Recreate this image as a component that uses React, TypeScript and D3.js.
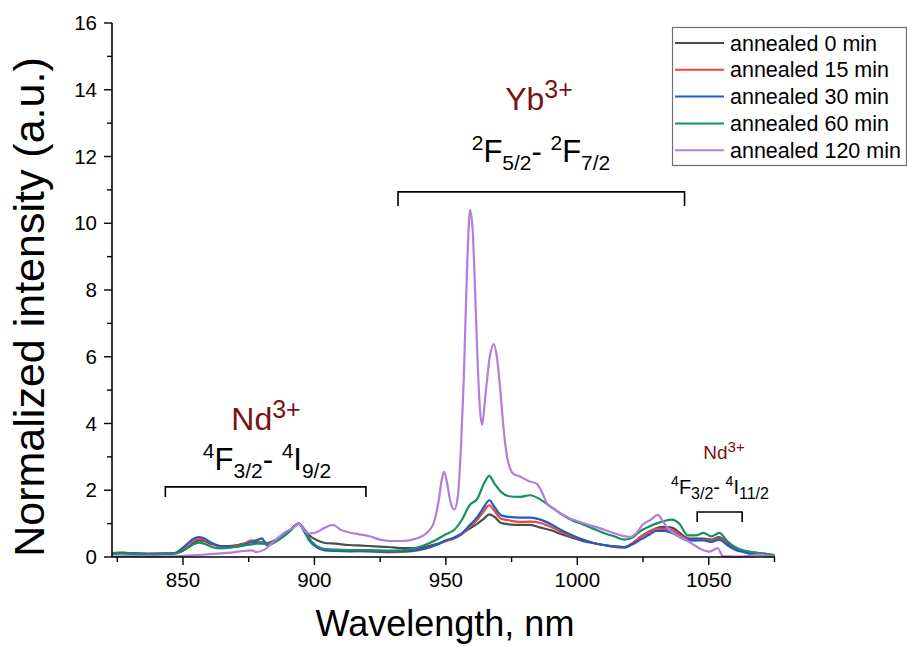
import React from 'react';
import * as d3 from 'd3';

// Shared wavelength grid (nm) for the 0, 15, 30 and 60 min spectra
const wavelengths = [
  823, 827, 831, 835, 839, 843, 847, 849,
  852, 854, 856, 858, 861, 864, 867, 870,
  873, 876, 878, 880, 882, 885, 888, 891,
  894, 896, 898, 901, 904, 908, 913, 918,
  923, 928, 933, 938, 942, 946, 950, 953,
  956, 959, 962, 964.5, 966.5, 968.5, 971, 974,
  978, 982, 986, 990, 994, 998, 1002, 1006,
  1010, 1014, 1018, 1021, 1024, 1027, 1030, 1033,
  1036, 1039, 1042, 1045, 1048, 1051, 1054, 1057,
  1060, 1063, 1067, 1071, 1075,
];

const annealed0 = [
  0.1, 0.12, 0.1, 0.1, 0.08, 0.1, 0.12, 0.15,
  0.3, 0.42, 0.5, 0.48, 0.38, 0.33, 0.33, 0.35,
  0.4, 0.45, 0.45, 0.44, 0.42, 0.5, 0.65, 0.82,
  1.0, 0.85, 0.65, 0.5, 0.42, 0.4, 0.36, 0.34,
  0.32, 0.3, 0.27, 0.27, 0.3, 0.38, 0.48, 0.58,
  0.7, 0.85, 1.0, 1.15, 1.28, 1.2, 1.02, 0.98,
  0.96, 0.96, 0.88, 0.8, 0.68, 0.58, 0.48, 0.42,
  0.36, 0.3, 0.28, 0.4, 0.6, 0.75, 0.86, 0.9,
  0.88, 0.72, 0.56, 0.55, 0.55, 0.52, 0.6, 0.42,
  0.27, 0.18, 0.12, 0.08, 0.05,
];

const annealed15 = [
  0.12, 0.14, 0.1, 0.09, 0.1, 0.11, 0.12, 0.2,
  0.38, 0.5, 0.56, 0.52, 0.4, 0.32, 0.3, 0.32,
  0.38, 0.5, 0.48, 0.42, 0.38, 0.48, 0.65, 0.82,
  1.0, 0.8, 0.55, 0.3, 0.22, 0.2, 0.18, 0.17,
  0.16, 0.14, 0.15, 0.18, 0.25, 0.35, 0.48, 0.55,
  0.68, 0.9, 1.12, 1.38, 1.55, 1.38, 1.15, 1.1,
  1.05, 1.06, 1.02, 0.9, 0.75, 0.62, 0.52, 0.42,
  0.36, 0.32, 0.3, 0.42, 0.6, 0.72, 0.85, 0.84,
  0.8, 0.66, 0.52, 0.5, 0.52, 0.5, 0.56, 0.4,
  0.25, 0.18, 0.14, 0.1, 0.06,
];

const annealed30 = [
  0.1, 0.12, 0.12, 0.1, 0.1, 0.1, 0.12, 0.22,
  0.42, 0.55, 0.6, 0.56, 0.42, 0.33, 0.3, 0.3,
  0.36, 0.45, 0.5, 0.56, 0.35, 0.45, 0.62, 0.82,
  1.0, 0.78, 0.5, 0.28, 0.2, 0.18, 0.17, 0.18,
  0.17, 0.15, 0.17, 0.2, 0.25, 0.35, 0.5, 0.57,
  0.7, 0.95, 1.2, 1.5, 1.7, 1.5, 1.25, 1.2,
  1.18, 1.18, 1.12, 0.98, 0.8, 0.65, 0.52, 0.42,
  0.36, 0.32, 0.3, 0.38, 0.52, 0.65, 0.78, 0.78,
  0.72, 0.6, 0.5, 0.5, 0.5, 0.45, 0.52, 0.36,
  0.22, 0.15, 0.08, 0.06, 0.04,
];

const annealed60 = [
  0.1, 0.1, 0.1, 0.09, 0.08, 0.09, 0.1, 0.15,
  0.28, 0.38, 0.43, 0.4, 0.3, 0.26, 0.27, 0.3,
  0.34, 0.38, 0.4, 0.4, 0.38, 0.45, 0.6, 0.8,
  1.0, 0.8, 0.55, 0.32, 0.24, 0.22, 0.21, 0.21,
  0.2, 0.19, 0.2, 0.26, 0.36, 0.5, 0.68, 0.8,
  1.1, 1.55, 1.75, 2.2, 2.43, 2.2, 1.95, 1.82,
  1.8, 1.85, 1.72, 1.5, 1.28, 1.1, 0.98, 0.85,
  0.72, 0.62, 0.52, 0.58, 0.78, 0.9, 1.0, 1.08,
  1.12, 0.98, 0.65, 0.65, 0.72, 0.62, 0.72, 0.48,
  0.3, 0.2, 0.14, 0.1, 0.05,
];

// Own, denser grid for the 120 min spectrum (sharp Yb peaks)
const wavelengths120 = [
  823, 831, 841, 849, 856, 863, 869, 873, 876, 878, 881, 885, 889, 892, 894, 896,
  898, 901, 904, 907, 910, 913, 917, 921, 925, 929, 933, 936, 939, 941.5, 943.5, 945.5,
  947.2, 948.4, 949.3, 950.4, 951.6, 953.2, 954.6, 955.8, 956.8, 958, 959.2, 960.2, 961.1, 962,
  963, 963.8, 965, 966.7, 968.2, 969.4, 970.7, 972, 973.3, 975.6, 978, 982, 984.5, 986.5,
  988.5, 991, 993.5, 997, 1001, 1005, 1009, 1013, 1017, 1020, 1022.5, 1025, 1028, 1030.6,
  1032.2, 1034, 1037.6, 1041.4, 1044, 1046.4, 1050.2, 1052, 1053.4, 1055.3, 1058, 1061, 1065,
  1069, 1073, 1075,
];

const annealed120 = [
  0.02, 0.03, 0.02, 0.03, 0.06, 0.1, 0.14, 0.18, 0.2, 0.15, 0.22, 0.5, 0.75, 0.88, 1.0, 0.82,
  0.7, 0.75, 0.88, 0.96, 0.82, 0.74, 0.68, 0.62, 0.52, 0.48, 0.48, 0.5, 0.56, 0.65, 0.78, 1.05,
  1.65, 2.3, 2.55, 2.25, 1.7, 1.42, 1.85, 3.4, 5.3, 8.5, 10.4, 9.8, 8.0, 6.0,
  4.4, 3.96, 4.8, 6.0, 6.38, 6.0, 5.0, 3.8, 3.0, 2.5, 2.42, 2.26, 2.2, 1.95,
  1.6, 1.45, 1.31, 1.16, 1.05, 0.95, 0.85, 0.74, 0.64, 0.6, 0.72, 0.98, 1.12, 1.26,
  1.12, 0.9, 0.66, 0.51, 0.38, 0.26, 0.16, 0.22, 0.27, 0.03, 0.02, 0.01, 0.03,
  0.07, 0.03, 0.02,
];

const seriesLabels = ['annealed 0 min', 'annealed 15 min', 'annealed 30 min', 'annealed 60 min', 'annealed 120 min'];
const seriesColors = ['#4d4d4d', '#ec4640', '#1f5cc6', '#16905c', '#b27edd'];

const xTicksMajor = [850, 900, 950, 1000, 1050];
const xTicksMinor = [825, 875, 925, 975, 1025, 1075];
const yTicksMajor = [0, 2, 4, 6, 8, 10, 12, 14, 16];
const yTicksMinor = [1, 3, 5, 7, 9, 11, 13, 15];

const FONT = 'Liberation Sans, Arial, Helvetica, sans-serif';
const DARK_RED = '#7a1212';

type TermProps = { cx: number; base: number; main: number; small: number; sup: number; up: number; down: number; parts: [string, string, string, string, string, string] };

// Spectroscopic term "^aX_b- ^cY_d" as a single text chunk (relative shifts only)
function Term({ cx, base, main, small, sup, up, down, parts }: TermProps) {
  const [s1, m1, b1, s2, m2, b2] = parts;
  return (
    <text x={cx} y={base} textAnchor="middle" fill="#000">
      <tspan fontSize={sup} dy={-up}>{s1}</tspan>
      <tspan fontSize={main} dy={up}>{m1}</tspan>
      <tspan fontSize={small} dy={down}>{b1}</tspan>
      <tspan fontSize={main} dy={-down}>{'-\u00a0'}</tspan>
      <tspan fontSize={sup} dy={-up}>{s2}</tspan>
      <tspan fontSize={main} dy={up}>{m2}</tspan>
      <tspan fontSize={small} dy={down}>{b2}</tspan>
    </text>
  );
}

function Ion({ cx, base, name, size, supSize, up }: { cx: number; base: number; name: string; size: number; supSize: number; up: number }) {
  return (
    <text x={cx} y={base} textAnchor="middle" fill={DARK_RED}>
      <tspan fontSize={size}>{name}</tspan>
      <tspan fontSize={supSize} dy={-up}>3+</tspan>
    </text>
  );
}

export default function App() {
  const W = 907;
  const H = 647;
  const x = d3.scaleLinear().domain([823, 1075.2]).range([112, 775]);
  const y = d3.scaleLinear().domain([0, 16]).range([557, 23]);
  const line = d3
    .line<[number, number]>()
    .x((d) => x(d[0]))
    .y((d) => y(d[1]))
    .curve(d3.curveMonotoneX);

  const series: [number, number][][] = [
    wavelengths.map((w, i) => [w, annealed0[i]] as [number, number]),
    wavelengths.map((w, i) => [w, annealed15[i]] as [number, number]),
    wavelengths.map((w, i) => [w, annealed30[i]] as [number, number]),
    wavelengths.map((w, i) => [w, annealed60[i]] as [number, number]),
    wavelengths120.map((w, i) => [w, annealed120[i]] as [number, number]),
  ];

  const x0 = x.range()[0];
  const y0 = y.range()[0];

  const bracket = (a: number, b: number, top: number, leg: number) =>
    `M${x(a)},${y(leg)}V${y(top)}H${x(b)}V${y(leg)}`;

  return (
    <svg
      width={W}
      height={H}
      viewBox={`0 0 ${W} ${H}`}
      style={{ position: 'absolute', left: 0, top: 0, background: '#fff' }}
      fontFamily={FONT}
    >
      <rect x={0} y={0} width={W} height={H} fill="#fff" />

      {/* data lines */}
      {series.map((s, i) => (
        <path key={i} d={line(s) || ''} fill="none" stroke={seriesColors[i]} strokeWidth={2.2} strokeLinejoin="round" />
      ))}

      {/* axes */}
      <line x1={x0} x2={x0} y1={y(16)} y2={y0} stroke="#000" strokeWidth={1.6} />
      <line x1={x0} x2={x.range()[1]} y1={y0} y2={y0} stroke="#000" strokeWidth={1.6} />
      {yTicksMajor.map((t) => (
        <g key={'ym' + t}>
          <line x1={x0 - 8} x2={x0} y1={y(t)} y2={y(t)} stroke="#000" strokeWidth={1.4} />
          <text x={x0 - 15} y={y(t)} dy="0.35em" textAnchor="end" fontSize={20.5} fill="#000">
            {t}
          </text>
        </g>
      ))}
      {yTicksMinor.map((t) => (
        <line key={'yn' + t} x1={x0 - 5} x2={x0} y1={y(t)} y2={y(t)} stroke="#000" strokeWidth={1.4} />
      ))}
      {xTicksMajor.map((t) => (
        <g key={'xm' + t}>
          <line x1={x(t)} x2={x(t)} y1={y0} y2={y0 + 8} stroke="#000" strokeWidth={1.4} />
          <text x={x(t)} y={y0 + 30} textAnchor="middle" fontSize={20.5} fill="#000">
            {t}
          </text>
        </g>
      ))}
      {xTicksMinor.map((t) => (
        <line key={'xn' + t} x1={x(t)} x2={x(t)} y1={y0} y2={y0 + 5} stroke="#000" strokeWidth={1.4} />
      ))}

      {/* axis titles */}
      <text x={445} y={636} textAnchor="middle" fontSize={36} fill="#000">
        Wavelength, nm
      </text>
      <text transform={`translate(44, 307) rotate(-90)`} textAnchor="middle" fontSize={43} fill="#000">
        Normalized intensity (a.u.)
      </text>

      {/* legend */}
      <rect x={672.5} y={27.5} width={234} height={138} fill="#fff" stroke="#6e6e6e" strokeWidth={1.2} />
      {seriesLabels.map((lab, i) => {
        const ly = 43 + i * 26.8;
        return (
          <g key={lab}>
            <line x1={675} x2={724} y1={ly} y2={ly} stroke={seriesColors[i]} strokeWidth={2} />
            <text x={730} y={ly} dy="0.35em" fontSize={21.5} fill="#000">
              {lab}
            </text>
          </g>
        );
      })}

      {/* Yb annotation */}
      <Ion cx={539} base={110} name="Yb" size={32} supSize={25} up={12} />
      <Term cx={541} base={162} main={31} small={21} sup={21} up={12} down={8} parts={['2', 'F', '5/2', '2', 'F', '7/2']} />
      <path d={bracket(931.8, 1040.8, 10.94, 10.52)} fill="none" stroke="#000" strokeWidth={1.6} />

      {/* Nd (left) annotation */}
      <Ion cx={266} base={430} name="Nd" size={32} supSize={25} up={12} />
      <Term cx={267} base={470} main={31} small={21} sup={21} up={12} down={8} parts={['4', 'F', '3/2', '4', 'I', '9/2']} />
      <path d={bracket(843.3, 919.6, 2.1, 1.8)} fill="none" stroke="#000" strokeWidth={1.6} />

      {/* Nd (right) annotation */}
      <Ion cx={724} base={459} name="Nd" size={19} supSize={15} up={7} />
      <Term cx={720} base={494} main={20} small={16} sup={14} up={8} down={5} parts={['4', 'F', '3/2', '4', 'I', '11/2']} />
      <path d={bracket(1045.6, 1062.7, 1.35, 1.05)} fill="none" stroke="#000" strokeWidth={1.6} />
    </svg>
  );
}
